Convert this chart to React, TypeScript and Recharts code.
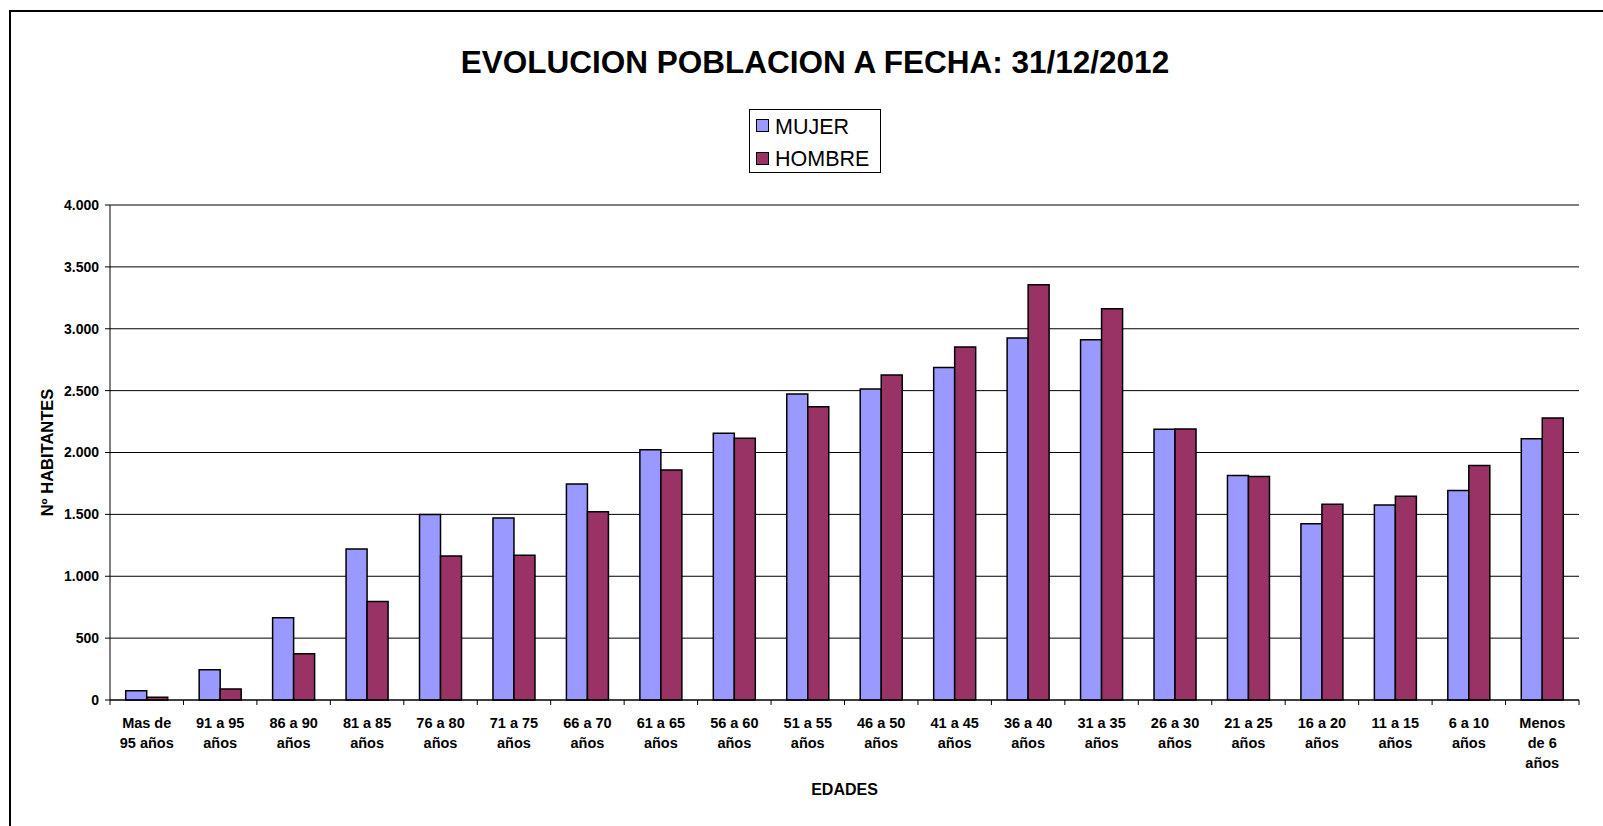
import React from 'react';
import { BarChart, Bar, XAxis, YAxis, CartesianGrid, Legend } from 'recharts';

const categories = [
  'Mas de\n95 años', '91 a 95\naños', '86 a 90\naños', '81 a 85\naños', '76 a 80\naños',
  '71 a 75\naños', '66 a 70\naños', '61 a 65\naños', '56 a 60\naños', '51 a 55\naños',
  '46 a 50\naños', '41 a 45\naños', '36 a 40\naños', '31 a 35\naños', '26 a 30\naños',
  '21 a 25\naños', '16 a 20\naños', '11 a 15\naños', '6 a 10\naños', 'Menos\nde 6\naños',
];
const mujer = [75, 245, 665, 1220, 1500, 1471, 1745, 2023, 2155, 2473, 2513, 2686, 2925, 2912, 2187, 1815, 1425, 1576, 1692, 2112];
const hombre = [22, 89, 374, 795, 1164, 1169, 1522, 1859, 2115, 2370, 2626, 2853, 3356, 3162, 2190, 1807, 1581, 1646, 1894, 2279];
const yTicks = [0, 500, 1000, 1500, 2000, 2500, 3000, 3500, 4000];
const seriesNames = ['MUJER', 'HOMBRE'];
const seriesColors = ['#9999FF', '#993366'];
const title = 'EVOLUCION POBLACION A FECHA: 31/12/2012';
const xTitle = 'EDADES';
const yTitle = 'Nº HABITANTES';

const data = categories.map((name, i) => ({ name, mujer: mujer[i], hombre: hombre[i] }));

const FONT = '"Liberation Sans", Arial, Helvetica, sans-serif';

const fmt = (v: number) => String(v).replace(/\B(?=(\d{3})+(?!\d))/g, '.');

const XTick = (props: any) => {
  const { x, y, payload, index, width, visibleTicksCount } = props;
  const band = width && visibleTicksCount ? width / visibleTicksCount : 73.45;
  const half = band / 2;
  const lines = String(payload.value).split('\n');
  return (
    <g>
      <line x1={x - half} x2={x - half} y1={y} y2={y + 5} stroke="#000" strokeWidth={1} />
      {index === visibleTicksCount - 1 && (
        <line x1={x + half} x2={x + half} y1={y} y2={y + 5} stroke="#000" strokeWidth={1} />
      )}
      <text x={x} textAnchor="middle" fontWeight="bold" fontSize={14.5} fontFamily={FONT} fill="#000">
        {lines.map((l, i) => (
          <tspan key={i} x={x} y={y + 28 + i * 20}>{l}</tspan>
        ))}
      </text>
    </g>
  );
};

const LegendBox = (props: any) => {
  const payload = [...(props.payload || [])].sort(
    (a: any, b: any) => seriesNames.indexOf(a.value) - seriesNames.indexOf(b.value)
  );
  return (
    <svg width={132} height={64} style={{ display: 'block' }}>
      <rect x={0.5} y={0.5} width={131} height={63} fill="#fff" stroke="#000" strokeWidth={1} />
      {payload.map((e: any, i: number) => (
        <g key={i}>
          <rect x={7.5} y={10.5 + i * 33} width={12} height={12} fill={e.color} stroke="#000" strokeWidth={1} />
          <text x={26} y={24.5 + i * 32} fontSize={21.5} fontFamily={FONT} fill="#000">{e.value}</text>
        </g>
      ))}
    </svg>
  );
};

const YLabel = (p: any) => {
  const vb = p.viewBox || { x: 20, y: 193, width: 79, height: 495 };
  const cx = vb.x + 16;
  const cy = vb.y + vb.height / 2;
  return (
    <text x={cx} y={cy} transform={`rotate(-90 ${cx} ${cy})`} textAnchor="middle" dominantBaseline="central"
      fontWeight="bold" fontSize={16.5} fontFamily={FONT} fill="#000">{yTitle}</text>
  );
};

export default function App() {
  return (
    <div style={{
      position: 'absolute', left: 9, top: 10, width: 1594, height: 816, boxSizing: 'border-box',
      borderLeft: '2px solid #000', borderTop: '2px solid #000', background: '#fff', fontFamily: FONT,
    }}>
      <BarChart
        width={1592}
        height={814}
        data={data}
        margin={{ top: 193, right: 24, bottom: 26, left: 20 }}
        barCategoryGap="21.4%"
        barGap={0}
      >
        <CartesianGrid vertical={false} stroke="#000" strokeWidth={1} />
        <XAxis
          dataKey="name"
          interval={0}
          height={100}
          tickLine={false}
          tickSize={0}
          tickMargin={0}
          axisLine={{ stroke: '#000', strokeWidth: 1 }}
          tick={<XTick />}
          label={{ value: xTitle, position: 'insideBottom', offset: 5, fontWeight: 'bold', fontSize: 16, fill: '#000', fontFamily: FONT }}
        />
        <XAxis xAxisId="top" dataKey="name" orientation="top" height={0} tick={false} tickLine={false}
          axisLine={{ stroke: '#888', strokeWidth: 1 }} />
        <YAxis
          domain={[0, 4000]}
          ticks={yTicks}
          interval={0}
          width={79}
          tickSize={5}
          tickMargin={6}
          tickFormatter={fmt}
          axisLine={{ stroke: '#000', strokeWidth: 1 }}
          tickLine={{ stroke: '#000', strokeWidth: 1 }}
          tick={{ fontWeight: 'bold', fontSize: 14, fill: '#000', fontFamily: FONT }}
          label={{ content: YLabel }}
        />
        <YAxis yAxisId="right" orientation="right" domain={[0, 4000]} width={0} tick={false} tickLine={false}
          axisLine={{ stroke: '#888', strokeWidth: 1 }} />
        <Legend
          verticalAlign="middle"
          align="center"
          layout="horizontal"
          itemSorter={null as any}
          wrapperStyle={{ left: 738, top: 97, width: 132, height: 64 }}
          content={<LegendBox />}
        />
        <Bar dataKey="mujer" name={seriesNames[0]} fill={seriesColors[0]} stroke="#000" strokeWidth={1.5} isAnimationActive={false} />
        <Bar dataKey="hombre" name={seriesNames[1]} fill={seriesColors[1]} stroke="#000" strokeWidth={1.5} isAnimationActive={false} />
      </BarChart>
      <div style={{
        position: 'absolute', left: 804, top: 35, transform: 'translateX(-50%)', whiteSpace: 'nowrap',
        fontSize: 31.5, lineHeight: '30px', fontWeight: 'bold', color: '#000', fontFamily: FONT,
      }}>{title}</div>
    </div>
  );
}
